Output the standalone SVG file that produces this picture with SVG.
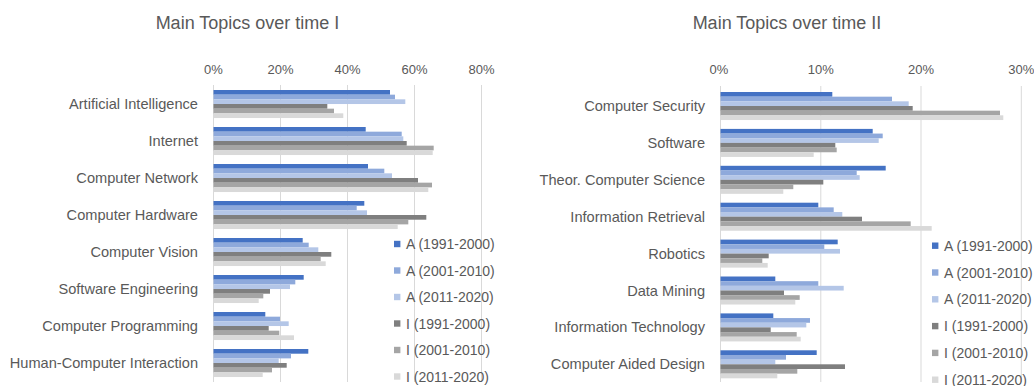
<svg xmlns="http://www.w3.org/2000/svg" width="1034" height="386" viewBox="0 0 1034 386">
<style>
text{font-family:"Liberation Sans",Arial,sans-serif;fill:#595959}
.title{font-size:18px;text-anchor:middle}
.ax{font-size:13px;text-anchor:middle}
.cat{font-size:14.6px;text-anchor:end}
.leg{font-size:14px}
.grid{stroke:#D9D9D9;stroke-width:1}
.c1{fill:#4472C4}.c2{fill:#8EA9DB}.c3{fill:#B4C6E7}.c4{fill:#7F7F7F}.c5{fill:#A5A5A5}.c6{fill:#D9D9D9}
</style>
<rect width="1034" height="386" fill="#fff"/>

<!-- ===== Chart I ===== -->
<g id="chart1">
<text class="title" x="247.5" y="29">Main Topics over time I</text>
<g id="axis1">
<line class="grid" x1="213.5" y1="85" x2="213.5" y2="382"/>
<line class="grid" x1="280.5" y1="85" x2="280.5" y2="382"/>
<line class="grid" x1="347.5" y1="85" x2="347.5" y2="382"/>
<line class="grid" x1="414.5" y1="85" x2="414.5" y2="382"/>
<line class="grid" x1="481.5" y1="85" x2="481.5" y2="382"/>
<text class="ax" x="213.5" y="74">0%</text>
<text class="ax" x="280.5" y="74">20%</text>
<text class="ax" x="347.5" y="74">40%</text>
<text class="ax" x="414.5" y="74">60%</text>
<text class="ax" x="481.5" y="74">80%</text>
</g>
<g id="ai" transform="translate(0,90)">
<text class="cat" x="198" y="19">Artificial Intelligence</text>
<rect class="c1" x="213.5" y="0" width="176.5" height="4.7"/>
<rect class="c2" x="213.5" y="4.67" width="181.5" height="4.7"/>
<rect class="c3" x="213.5" y="9.33" width="191.8" height="4.7"/>
<rect class="c4" x="213.5" y="14" width="113.8" height="4.7"/>
<rect class="c5" x="213.5" y="18.67" width="120.5" height="4.7"/>
<rect class="c6" x="213.5" y="23.33" width="129.8" height="4.7"/>
</g>
<g id="internet" transform="translate(0,127)">
<text class="cat" x="198" y="19">Internet</text>
<rect class="c1" x="213.5" y="0" width="152.2" height="4.7"/>
<rect class="c2" x="213.5" y="4.67" width="188.2" height="4.7"/>
<rect class="c3" x="213.5" y="9.33" width="189.8" height="4.7"/>
<rect class="c4" x="213.5" y="14" width="193.2" height="4.7"/>
<rect class="c5" x="213.5" y="18.67" width="220.2" height="4.7"/>
<rect class="c6" x="213.5" y="23.33" width="219.2" height="4.7"/>
</g>
<g id="network" transform="translate(0,164)">
<text class="cat" x="198" y="19">Computer Network</text>
<rect class="c1" x="213.5" y="0" width="154.5" height="4.7"/>
<rect class="c2" x="213.5" y="4.67" width="170.8" height="4.7"/>
<rect class="c3" x="213.5" y="9.33" width="178.5" height="4.7"/>
<rect class="c4" x="213.5" y="14" width="204.5" height="4.7"/>
<rect class="c5" x="213.5" y="18.67" width="218.5" height="4.7"/>
<rect class="c6" x="213.5" y="23.33" width="214.8" height="4.7"/>
</g>
<g id="hardware" transform="translate(0,201)">
<text class="cat" x="198" y="19">Computer Hardware</text>
<rect class="c1" x="213.5" y="0" width="150.8" height="4.7"/>
<rect class="c2" x="213.5" y="4.67" width="143.2" height="4.7"/>
<rect class="c3" x="213.5" y="9.33" width="153.5" height="4.7"/>
<rect class="c4" x="213.5" y="14" width="212.8" height="4.7"/>
<rect class="c5" x="213.5" y="18.67" width="194.8" height="4.7"/>
<rect class="c6" x="213.5" y="23.33" width="184.2" height="4.7"/>
</g>
<g id="vision" transform="translate(0,238)">
<text class="cat" x="198" y="19">Computer Vision</text>
<rect class="c1" x="213.5" y="0" width="89.2" height="4.7"/>
<rect class="c2" x="213.5" y="4.67" width="95.2" height="4.7"/>
<rect class="c3" x="213.5" y="9.33" width="104.8" height="4.7"/>
<rect class="c4" x="213.5" y="14" width="117.8" height="4.7"/>
<rect class="c5" x="213.5" y="18.67" width="107.2" height="4.7"/>
<rect class="c6" x="213.5" y="23.33" width="112.2" height="4.7"/>
</g>
<g id="softeng" transform="translate(0,275)">
<text class="cat" x="198" y="19">Software Engineering</text>
<rect class="c1" x="213.5" y="0" width="90.2" height="4.7"/>
<rect class="c2" x="213.5" y="4.67" width="81.8" height="4.7"/>
<rect class="c3" x="213.5" y="9.33" width="76.5" height="4.7"/>
<rect class="c4" x="213.5" y="14" width="56.5" height="4.7"/>
<rect class="c5" x="213.5" y="18.67" width="49.8" height="4.7"/>
<rect class="c6" x="213.5" y="23.33" width="45.2" height="4.7"/>
</g>
<g id="programming" transform="translate(0,312)">
<text class="cat" x="198" y="19">Computer Programming</text>
<rect class="c1" x="213.5" y="0" width="51.8" height="4.7"/>
<rect class="c2" x="213.5" y="4.67" width="66.5" height="4.7"/>
<rect class="c3" x="213.5" y="9.33" width="75.2" height="4.7"/>
<rect class="c4" x="213.5" y="14" width="55.2" height="4.7"/>
<rect class="c5" x="213.5" y="18.67" width="65.8" height="4.7"/>
<rect class="c6" x="213.5" y="23.33" width="80.5" height="4.7"/>
</g>
<g id="hci" transform="translate(0,349)">
<text class="cat" x="198" y="19">Human-Computer Interaction</text>
<rect class="c1" x="213.5" y="0" width="94.8" height="4.7"/>
<rect class="c2" x="213.5" y="4.67" width="77.5" height="4.7"/>
<rect class="c3" x="213.5" y="9.33" width="65.2" height="4.7"/>
<rect class="c4" x="213.5" y="14" width="73.2" height="4.7"/>
<rect class="c5" x="213.5" y="18.67" width="58.5" height="4.7"/>
<rect class="c6" x="213.5" y="23.33" width="49.2" height="4.7"/>
</g>
<g id="legend1">
<rect class="c1" x="394" y="240.8" width="6.4" height="6.4"/><text class="leg" x="406" y="249">A (1991-2000)</text>
<rect class="c2" x="394" y="267.3" width="6.4" height="6.4"/><text class="leg" x="406" y="275.5">A (2001-2010)</text>
<rect class="c3" x="394" y="293.8" width="6.4" height="6.4"/><text class="leg" x="406" y="302">A (2011-2020)</text>
<rect class="c4" x="394" y="320.3" width="6.4" height="6.4"/><text class="leg" x="406" y="328.5">I (1991-2000)</text>
<rect class="c5" x="394" y="346.8" width="6.4" height="6.4"/><text class="leg" x="406" y="355">I (2001-2010)</text>
<rect class="c6" x="394" y="373.3" width="6.4" height="6.4"/><text class="leg" x="406" y="381.5">I (2011-2020)</text>
</g>
</g>

<!-- ===== Chart II ===== -->
<g id="chart2">
<text class="title" x="787" y="29">Main Topics over time II</text>
<g id="axis2">
<line class="grid" x1="720.5" y1="86" x2="720.5" y2="382"/>
<line class="grid" x1="820.8" y1="86" x2="820.8" y2="382"/>
<line class="grid" x1="921" y1="86" x2="921" y2="382"/>
<line class="grid" x1="1021.3" y1="86" x2="1021.3" y2="382"/>
<text class="ax" x="719" y="74">0%</text>
<text class="ax" x="820.8" y="74">10%</text>
<text class="ax" x="921" y="74">20%</text>
<text class="ax" x="1021.3" y="74">30%</text>
</g>
<g id="security" transform="translate(0,92)">
<text class="cat" x="705" y="19">Computer Security</text>
<rect class="c1" x="720.5" y="0" width="111.8" height="4.7"/>
<rect class="c2" x="720.5" y="4.67" width="171.5" height="4.7"/>
<rect class="c3" x="720.5" y="9.33" width="188.2" height="4.7"/>
<rect class="c4" x="720.5" y="14" width="192.2" height="4.7"/>
<rect class="c5" x="720.5" y="18.67" width="279.5" height="4.7"/>
<rect class="c6" x="720.5" y="23.33" width="282.8" height="4.7"/>
</g>
<g id="software" transform="translate(0,128.9)">
<text class="cat" x="705" y="19">Software</text>
<rect class="c1" x="720.5" y="0" width="152.2" height="4.7"/>
<rect class="c2" x="720.5" y="4.67" width="162.2" height="4.7"/>
<rect class="c3" x="720.5" y="9.33" width="158.2" height="4.7"/>
<rect class="c4" x="720.5" y="14" width="114.8" height="4.7"/>
<rect class="c5" x="720.5" y="18.67" width="116.2" height="4.7"/>
<rect class="c6" x="720.5" y="23.33" width="93.2" height="4.7"/>
</g>
<g id="theory" transform="translate(0,165.8)">
<text class="cat" x="705" y="19">Theor. Computer Science</text>
<rect class="c1" x="720.5" y="0" width="165.2" height="4.7"/>
<rect class="c2" x="720.5" y="4.67" width="136.2" height="4.7"/>
<rect class="c3" x="720.5" y="9.33" width="139.2" height="4.7"/>
<rect class="c4" x="720.5" y="14" width="102.8" height="4.7"/>
<rect class="c5" x="720.5" y="18.67" width="72.8" height="4.7"/>
<rect class="c6" x="720.5" y="23.33" width="62.8" height="4.7"/>
</g>
<g id="retrieval" transform="translate(0,202.7)">
<text class="cat" x="705" y="19">Information Retrieval</text>
<rect class="c1" x="720.5" y="0" width="97.8" height="4.7"/>
<rect class="c2" x="720.5" y="4.67" width="113.2" height="4.7"/>
<rect class="c3" x="720.5" y="9.33" width="121.8" height="4.7"/>
<rect class="c4" x="720.5" y="14" width="141.5" height="4.7"/>
<rect class="c5" x="720.5" y="18.67" width="190.2" height="4.7"/>
<rect class="c6" x="720.5" y="23.33" width="211.2" height="4.7"/>
</g>
<g id="robotics" transform="translate(0,239.6)">
<text class="cat" x="705" y="19">Robotics</text>
<rect class="c1" x="720.5" y="0" width="117.2" height="4.7"/>
<rect class="c2" x="720.5" y="4.67" width="103.8" height="4.7"/>
<rect class="c3" x="720.5" y="9.33" width="119.5" height="4.7"/>
<rect class="c4" x="720.5" y="14" width="48.2" height="4.7"/>
<rect class="c5" x="720.5" y="18.67" width="41.8" height="4.7"/>
<rect class="c6" x="720.5" y="23.33" width="47.2" height="4.7"/>
</g>
<g id="datamining" transform="translate(0,276.5)">
<text class="cat" x="705" y="19">Data Mining</text>
<rect class="c1" x="720.5" y="0" width="54.8" height="4.7"/>
<rect class="c2" x="720.5" y="4.67" width="97.8" height="4.7"/>
<rect class="c3" x="720.5" y="9.33" width="123.2" height="4.7"/>
<rect class="c4" x="720.5" y="14" width="63.5" height="4.7"/>
<rect class="c5" x="720.5" y="18.67" width="79.2" height="4.7"/>
<rect class="c6" x="720.5" y="23.33" width="74.8" height="4.7"/>
</g>
<g id="infotech" transform="translate(0,313.4)">
<text class="cat" x="705" y="19">Information Technology</text>
<rect class="c1" x="720.5" y="0" width="52.8" height="4.7"/>
<rect class="c2" x="720.5" y="4.67" width="89.5" height="4.7"/>
<rect class="c3" x="720.5" y="9.33" width="85.8" height="4.7"/>
<rect class="c4" x="720.5" y="14" width="50.2" height="4.7"/>
<rect class="c5" x="720.5" y="18.67" width="76.2" height="4.7"/>
<rect class="c6" x="720.5" y="23.33" width="80.2" height="4.7"/>
</g>
<g id="cad" transform="translate(0,350.3)">
<text class="cat" x="705" y="19">Computer Aided Design</text>
<rect class="c1" x="720.5" y="0" width="96.2" height="4.7"/>
<rect class="c2" x="720.5" y="4.67" width="65.5" height="4.7"/>
<rect class="c3" x="720.5" y="9.33" width="54.8" height="4.7"/>
<rect class="c4" x="720.5" y="14" width="124.5" height="4.7"/>
<rect class="c5" x="720.5" y="18.67" width="76.8" height="4.7"/>
<rect class="c6" x="720.5" y="23.33" width="56.8" height="4.7"/>
</g>
<g id="legend2">
<rect class="c1" x="932" y="242.5" width="6.4" height="6.4"/><text class="leg" x="944" y="250.7">A (1991-2000)</text>
<rect class="c2" x="932" y="269.3" width="6.4" height="6.4"/><text class="leg" x="944" y="277.5">A (2001-2010)</text>
<rect class="c3" x="932" y="296.1" width="6.4" height="6.4"/><text class="leg" x="944" y="304.3">A (2011-2020)</text>
<rect class="c4" x="932" y="322.9" width="6.4" height="6.4"/><text class="leg" x="944" y="331.1">I (1991-2000)</text>
<rect class="c5" x="932" y="349.7" width="6.4" height="6.4"/><text class="leg" x="944" y="357.9">I (2001-2010)</text>
<rect class="c6" x="932" y="376.5" width="6.4" height="6.4"/><text class="leg" x="944" y="384.7">I (2011-2020)</text>
</g>
</g>
</svg>
